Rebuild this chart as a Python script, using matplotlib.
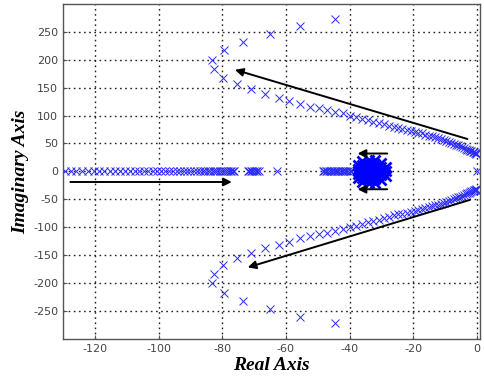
import numpy as np
import matplotlib.pyplot as plt

plt.rcParams['axes.unicode_minus'] = False

# upper complex branch (lower branch is its conjugate)
branch_x = [-75.3, -71.0, -66.6, -62.3, -58.9, -55.5, -52.4, -49.6, -47.0, -44.5,
            -42.2, -40.0, -38.0, -36.0, -34.2, -32.5, -30.8, -29.2, -27.7, -26.2,
            -24.8, -23.4, -22.1, -20.8, -19.6, -18.4, -17.3, -16.2, -15.1, -14.1,
            -13.1, -12.2, -11.3, -10.4, -9.6, -8.8, -8.0, -7.3, -6.6, -5.9,
            -5.3, -4.7, -4.1, -3.6, -3.1, -2.6, -2.2, -1.8, -1.4, -1.0,
            -0.7, -0.4, -0.2]
branch_y = [156, 147, 138, 132, 126, 120, 116, 113, 110, 107,
            104, 100, 97, 94, 91.5, 89, 86.5, 84, 81.5, 79,
            77, 75.5, 74, 73, 71, 69.5, 68, 66, 64, 62.5,
            61, 59.5, 58, 56, 54.5, 53, 51, 49.5, 48, 46.5,
            45, 43.5, 42, 40.5, 39, 38, 37, 36, 35, 34,
            33, 32.5, 32]

# outer scattered poles (upper half)
outer_x = [-83.2, -82.6, -79.4, -79.7, -73.5, -65.0, -55.5, -44.6]
outer_y = [200, 183, 218, 168, 232, 246, 260, 272]

# poles on the real axis
real_x = [-129.5, -127.6, -125.8, -124.0, -122.2, -120.4, -118.7, -117.0, -115.3, -113.7,
          -112.1, -110.5, -109.0, -107.5, -106.0, -104.6, -103.2, -101.8, -100.5, -99.2,
          -97.9, -96.7, -95.5, -94.3, -93.2, -92.1, -91.0, -90.0, -89.0, -88.0,
          -87.1, -86.2, -85.3, -84.5, -83.7, -82.9, -82.2, -81.5, -80.8, -80.1,
          -79.5, -78.9, -78.3, -77.7, -77.2, -76.7, -76.2,
          -72.0, -71.5, -71.0, -70.5, -70.0, -69.5, -69.0, -68.5,
          -62.8,
          -48.5, -48.0, -47.5, -47.0, -46.5, -46.0, -45.5, -45.0, -44.5, -44.0,
          -43.5, -43.0, -42.5, -42.0, -41.5, -41.0, -40.5, -40.0, -39.5,
          0.0]

# cluster of poles around -33
blob_x = [-37.5, -37.5, -37.5, -37.5, -37.5, -36.0, -36.0, -36.0, -36.0, -36.0, -36.0, -36.0,
          -34.0, -34.0, -34.0, -34.0, -34.0, -34.0, -34.0, -32.0, -32.0, -32.0, -32.0, -32.0,
          -32.0, -32.0, -30.0, -30.0, -30.0, -30.0, -30.0, -28.5, -28.5, -28.5]
blob_y = [-12, -5, 0, 5, 12, -19, -12, -6, 0, 6, 12, 19,
          -20, -13, -6, 0, 6, 13, 20, -20, -13, -6, 0, 6,
          13, 20, -15, -7, 0, 7, 15, -8, 0, 8]

# arrows: (start, end)
arrows = [((-3, 58), (-76, 182)),
          ((-2.2, -51), (-72, -172)),
          ((-127.7, -19), (-77, -19)),
          ((-28.2, 32), (-37.5, 32)),
          ((-28.2, -32), (-37.5, -32))]

fig = plt.figure(figsize=(4.85, 3.86), dpi=100)
ax = fig.add_axes([0.13, 0.122, 0.86, 0.868])

mk = dict(marker='x', linestyle='none', color='#2a2aff', markersize=6, markeredgewidth=0.7)
bx = np.array(branch_x)
by = np.array(branch_y)
ax.plot(bx, by, **mk)
ax.plot(bx, -by, **mk)
ox = np.array(outer_x)
oy = np.array(outer_y)
ax.plot(ox, oy, **mk)
ax.plot(ox, -oy, **mk)
ax.plot(real_x, np.zeros(len(real_x)), **mk)
ax.plot(blob_x, blob_y, marker='x', linestyle='none', color='#0000ff',
        markersize=7, markeredgewidth=2)

for (x0, y0), (x1, y1) in arrows:
    ax.annotate('', xy=(x1, y1), xytext=(x0, y0),
                arrowprops=dict(arrowstyle='-|>', color='black', lw=1.4,
                                mutation_scale=12, shrinkA=0, shrinkB=0))

ax.set_xlim(-130, 1)
ax.set_ylim(-300, 300)
ax.set_xticks([-120, -100, -80, -60, -40, -20, 0])
ax.set_yticks([-250, -200, -150, -100, -50, 0, 50, 100, 150, 200, 250])
ax.grid(True, color='#222222', linestyle=(0, (1.2, 2.5)), linewidth=1)
ax.tick_params(direction='in', length=3, labelsize=8, labelcolor='#444444', color='#555555')
for s in ax.spines.values():
    s.set_color('#555555')
    s.set_linewidth(1)

ax.set_xlabel('Real Axis', fontfamily='Liberation Serif', fontweight='bold',
              fontstyle='italic', fontsize=14, labelpad=2)
ax.set_ylabel('Imaginary Axis', fontfamily='Liberation Serif', fontweight='bold',
              fontstyle='italic', fontsize=14, labelpad=3)

fig.savefig('out.png', dpi=100)
